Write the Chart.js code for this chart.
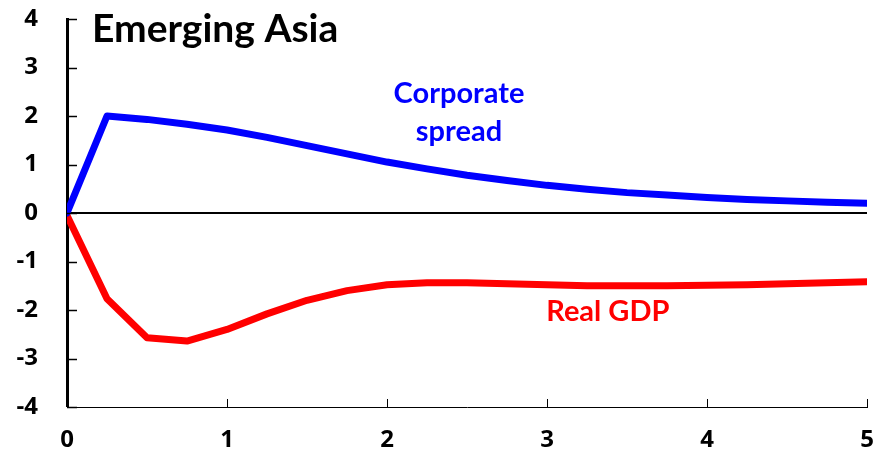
<!DOCTYPE html>
<html>
<head>
<meta charset="utf-8">
<script src="https://cdn.jsdelivr.net/npm/chart.js@4.4.1/dist/chart.umd.min.js"></script>
<style>
  html, body { margin: 0; padding: 0; background: #fff; }
  #wrap { width: 876px; height: 455px; }
</style>
</head>
<body>
<div id="wrap"><canvas id="chart"></canvas></div>
<script>
// years after shock, quarterly
const years = [0, 0.25, 0.5, 0.75, 1, 1.25, 1.5, 1.75, 2, 2.25, 2.5, 2.75, 3, 3.25, 3.5, 3.75, 4, 4.25, 4.5, 4.75, 5]
const corporateSpread = [0, 2.0, 1.93, 1.83, 1.71, 1.56, 1.39, 1.22, 1.05, 0.91, 0.78, 0.67, 0.57, 0.49, 0.42, 0.37, 0.32, 0.28, 0.25, 0.22, 0.20]
const realGDP = [-0.05, -1.77, -2.57, -2.64, -2.4, -2.08, -1.8, -1.6, -1.48, -1.44, -1.44, -1.46, -1.48, -1.5, -1.5, -1.5, -1.49, -1.48, -1.46, -1.44, -1.42]
const xTicks = [0, 1, 2, 3, 4, 5]
const yTicks = [-4, -3, -2, -1, 0, 1, 2, 3, 4]

const FONT = '"Open Sans", Lato, sans-serif'
const LFONT = 'Lato, "Open Sans", sans-serif'

const toPoints = vals => vals.map((v, i) => ({x: years[i], y: v}))

// labels, title and inward tick marks
const overlay = {
  id: 'overlay',
  afterDraw(chart) {
    const {ctx, chartArea, scales} = chart
    const xs = scales.x, ys = scales.y
    ctx.save()
    ctx.strokeStyle = '#000'
    ctx.lineWidth = 1.5
    yTicks.forEach(t => {
      const py = Math.round(ys.getPixelForValue(t)) + 0.5
      ctx.beginPath()
      ctx.moveTo(chartArea.left, py)
      ctx.lineTo(chartArea.left + 10, py)
      ctx.stroke()
    })
    ctx.lineWidth = 1
    xTicks.forEach(t => {
      const px = Math.round(xs.getPixelForValue(t)) + 0.5
      ctx.beginPath()
      ctx.moveTo(px, chartArea.bottom)
      ctx.lineTo(px, chartArea.bottom - 8)
      ctx.stroke()
    })

    ctx.textAlign = 'left'
    ctx.textBaseline = 'alphabetic'
    ctx.fillStyle = '#000'
    ctx.font = 'bold 39px ' + LFONT
    ctx.fillText('Emerging Asia', 92, 42)

    ctx.textAlign = 'center'
    ctx.fillStyle = '#0000ff'
    ctx.font = 'bold 29px ' + LFONT
    const cx = xs.getPixelForValue(2.45)
    ctx.fillText('Corporate', cx, 103)
    ctx.fillText('spread', cx, 141)

    ctx.fillStyle = '#ff0000'
    ctx.fillText('Real GDP', xs.getPixelForValue(3.38), 321)
    ctx.restore()
  }
}

const noPad = s => { s.paddingTop = 0; s.paddingBottom = 0; s.paddingLeft = 0; s.paddingRight = 0 }

new Chart(document.getElementById('chart'), {
  type: 'line',
  data: {
    datasets: [
      {
        label: 'Corporate spread',
        data: toPoints(corporateSpread),
        borderColor: '#0000ff',
        borderWidth: 7,
        pointRadius: 0,
        tension: 0,
        borderCapStyle: 'round',
        borderJoinStyle: 'round'
      },
      {
        label: 'Real GDP',
        data: toPoints(realGDP),
        borderColor: '#ff0000',
        borderWidth: 7,
        pointRadius: 0,
        tension: 0,
        borderCapStyle: 'round',
        borderJoinStyle: 'round'
      }
    ]
  },
  options: {
    responsive: true,
    maintainAspectRatio: false,
    animation: false,
    events: [],
    layout: {autoPadding: false, padding: {left: 0, right: 9, top: 19, bottom: 0}},
    plugins: {legend: {display: false}, tooltip: {enabled: false}},
    scales: {
      x: {
        type: 'linear',
        min: 0,
        max: 5,
        afterBuildTicks: s => { s.ticks = xTicks.map(v => ({value: v})) },
        afterFit: s => { s.height = 48; noPad(s) },
        grid: {display: false},
        border: {display: true, color: '#000', width: 1},
        ticks: {color: '#000', font: {family: FONT, size: 24, weight: 'bold'}, padding: 11, maxRotation: 0}
      },
      y: {
        min: -4,
        max: 4,
        afterBuildTicks: s => { s.ticks = yTicks.map(v => ({value: v})) },
        afterFit: s => { s.width = 67; noPad(s) },
        grid: {
          drawTicks: false,
          color: c => c.tick && c.tick.value === 0 ? '#000' : 'rgba(0,0,0,0)',
          lineWidth: c => c.tick && c.tick.value === 0 ? 2 : 0
        },
        border: {display: true, color: '#000', width: 3},
        ticks: {color: '#000', font: {family: FONT, size: 24, weight: 'bold'}, padding: 29}
      }
    }
  },
  plugins: [overlay]
})
</script>
</body>
</html>
